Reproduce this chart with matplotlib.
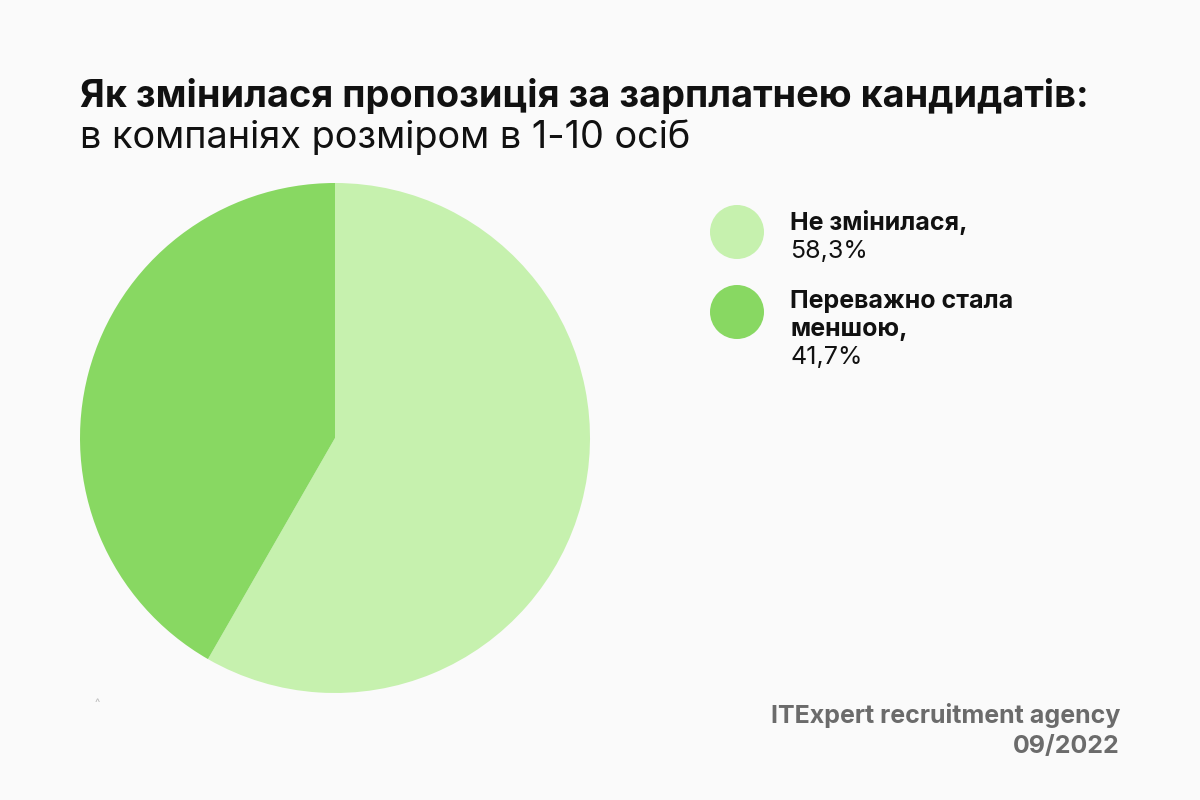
import matplotlib
matplotlib.use("Agg")
import matplotlib.pyplot as plt
from matplotlib.patches import Circle

title = "Як змінилася пропозиція за зарплатнею кандидатів:"
subtitle = "в компаніях розміром в 1-10 осіб"
labels = ["Не змінилася,", "Переважно стала\nменшою,"]
values = [58.3, 41.7]
value_labels = ["58,3%", "41,7%"]
colors = ["#C6F1AE", "#88D862"]
source = "ITExpert recruitment agency"
date = "09/2022"

bg = "#FAFAFA"
W, H = 1200, 800
fig = plt.figure(figsize=(12, 8), dpi=100, facecolor=bg)
font = "Inter"

# pie
ax = fig.add_axes([80 / W, (H - 693) / H, 510 / W, 510 / H])
ax.set_facecolor(bg)
ax.pie(values, colors=colors, startangle=90, counterclock=False,
       wedgeprops=dict(linewidth=0), radius=1)
ax.set_xlim(-1, 1)
ax.set_ylim(-1, 1)
ax.set_aspect("equal")
ax.axis("off")

# title
fig.text(80 / W, 1 - 107 / H, title, fontsize=27.3, fontweight="bold",
         family=font, color="#111111", va="baseline")
fig.text(80 / W, 1 - 148 / H, subtitle, fontsize=27.3, fontweight="normal",
         family=font, color="#111111", va="baseline")

# legend
lax = fig.add_axes([0, 0, 1, 1], facecolor="none")
lax.set_xlim(0, W)
lax.set_ylim(H, 0)
lax.axis("off")
circle_y = [232, 312]
text_y = [[230, 258], [308, 336, 364]]
for i in range(len(labels)):
    lax.add_patch(Circle((737, circle_y[i]), 27, color=colors[i], lw=0))
    lines = labels[i].split("\n")
    for j, ln in enumerate(lines):
        lax.text(790, text_y[i][j], ln, fontsize=18, fontweight="bold",
                 family=font, color="#111111", va="baseline")
    lax.text(790, text_y[i][len(lines)], value_labels[i], fontsize=18,
             family=font, color="#111111", va="baseline")

# footer
lax.text(1120, 723, source, fontsize=18, fontweight="bold", family=font,
         color="#6B6B6B", ha="right", va="baseline")
lax.text(1120, 753, date, fontsize=18, fontweight="bold", family=font,
         color="#6B6B6B", ha="right", va="baseline")
lax.text(97, 706, "^", fontsize=8, family=font, color="#BBBBBB",
         ha="center", va="baseline")

fig.savefig("out.png", dpi=100, facecolor=bg)
